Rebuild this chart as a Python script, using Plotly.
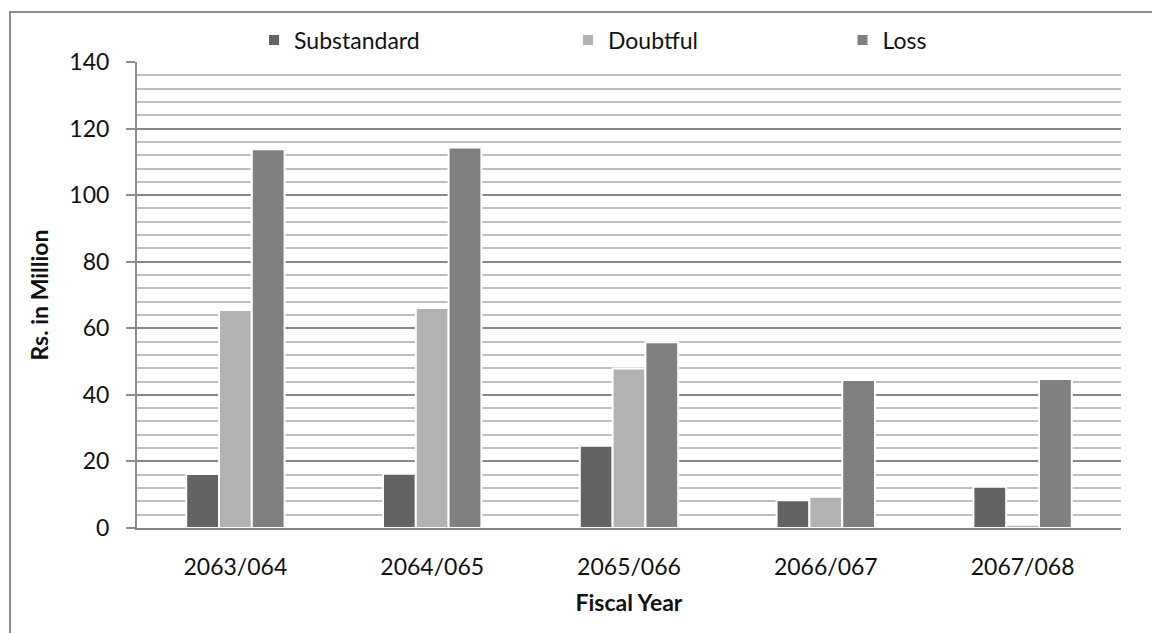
import plotly.graph_objects as go

# Non-performing loan categories by fiscal year (Rs. in Million)
fiscal_years = ["2063/064", "2064/065", "2065/066", "2066/067", "2067/068"]
substandard = [16.2, 16.3, 24.7, 8.3, 12.4]
doubtful = [65.5, 66.1, 47.9, 9.4, 1.0]
loss = [113.8, 114.3, 55.8, 44.5, 44.8]

y_ticks = [0, 20, 40, 60, 80, 100, 120, 140]

FONT = "Lato"
series = [
    ("Substandard", substandard, "#636363", "legend", 0.119),
    ("Doubtful", doubtful, "#b2b2b2", "legend2", 0.438),
    ("Loss", loss, "#808080", "legend3", 0.717),
]

fig = go.Figure()
for name, vals, color, leg, _ in series:
    fig.add_trace(go.Bar(
        x=fiscal_years, y=vals, name=name, legend=leg,
        marker=dict(color=color, line=dict(color="white", width=2)),
    ))

legend_style = dict(
    orientation="h", xanchor="left", yanchor="middle", y=1.047,
    font=dict(family=FONT, size=23, color="#111111"),
    bgcolor="rgba(0,0,0,0)", borderwidth=0,
)
layout_legends = {}
for name, vals, color, leg, lx in series:
    layout_legends[leg] = dict(legend_style, x=lx)

fig.update_layout(
    width=1152, height=633,
    margin=dict(l=137, r=31, t=62, b=105),
    paper_bgcolor="white", plot_bgcolor="white",
    barmode="group", bargap=0.5, bargroupgap=0,
    font=dict(family=FONT, size=23, color="#111111"),
    showlegend=True,
    **layout_legends,
)

fig.update_yaxes(
    range=[0, 140], tickvals=y_ticks, ticktext=[str(v) for v in y_ticks],
    showgrid=True, gridcolor="#878787", gridwidth=1.5,
    minor=dict(dtick=4, tick0=0, showgrid=True, gridcolor="#bfbfbf", gridwidth=1.5, ticks=""),
    showline=True, linecolor="#8c8c8c", linewidth=2,
    ticks="outside", ticklen=9, tickcolor="#8c8c8c", tickwidth=2,
    ticklabelstandoff=12,
    tickfont=dict(family=FONT, size=23, color="#111111"),
    title=dict(text="<b>Rs. in Million</b>", font=dict(family=FONT, size=23, color="#111111"), standoff=14),
    zeroline=False,
)
fig.update_xaxes(
    showline=True, linecolor="#868686", linewidth=2,
    ticks="", ticklabelstandoff=17,
    tickfont=dict(family=FONT, size=23, color="#111111"),
    title=dict(text="<b>Fiscal Year</b>", font=dict(family=FONT, size=23, color="#111111"), standoff=16),
)

# Outer chart frame
fig.add_shape(
    type="rect", xref="paper", yref="paper",
    x0=(10 - 137) / 984, x1=1.2, y0=-0.3, y1=1 + (62 - 12) / 466,
    line=dict(color="#8c8c8c", width=2), fillcolor="rgba(0,0,0,0)", layer="below",
)

fig.write_html("out.html")
